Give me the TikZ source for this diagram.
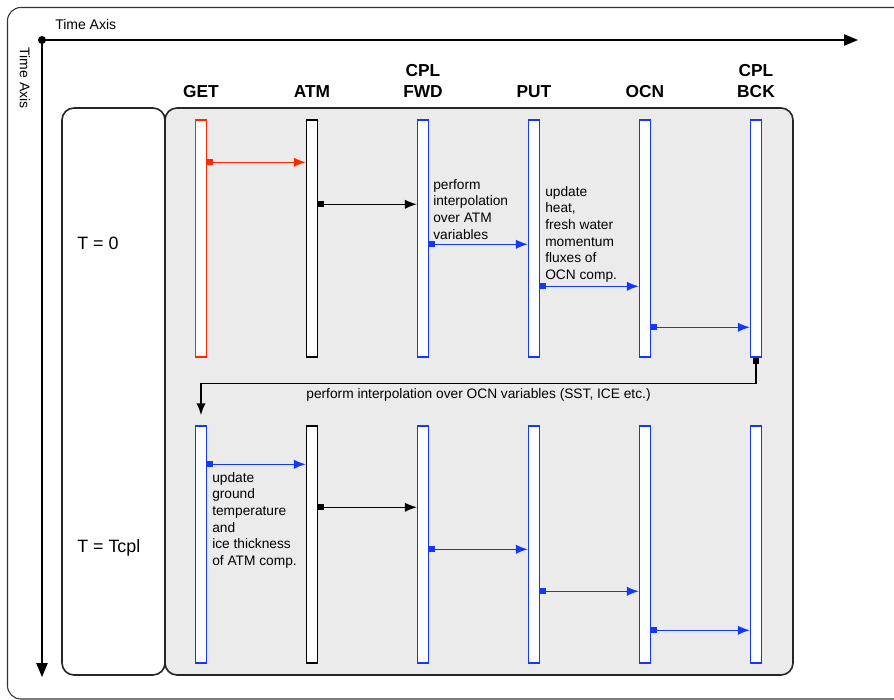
\documentclass[tikz,border=0pt]{standalone}
\usepackage{fontspec}
\setmainfont{Liberation Sans}
\usetikzlibrary{arrows.meta,calc,positioning}
\definecolor{rouge}{RGB}{255,38,0}
\definecolor{bleu}{RGB}{20,55,255}
\definecolor{fond}{HTML}{EBEBEB}
\tikzset{%
	>={Latex[length=9pt,width=7pt]},
	% Specifications for style of nodes:
	life/.style = {rectangle, draw=black, fill=white, line width=1.1pt, inner sep=0pt,
		minimum width=8pt, minimum height=177.75pt},
	lifer/.style = {life, draw=rouge},
	lifeb/.style = {life, draw=bleu},
	head/.style = {font=\fontsize{13}{15.75}\selectfont\bfseries, align=center, inner sep=0pt},
	note/.style = {font=\fontsize{10.3}{12.5}\selectfont, align=left, inner sep=0pt, anchor=north west},
	phase/.style = {font=\fontsize{13.4}{16}\selectfont, anchor=west, inner sep=0pt},
	msg/.style = {line width=1.15pt, {Square[length=4.8pt,width=4.8pt]}->},
	axis/.style = {line width=1pt, -{Triangle[length=10.5pt,width=8.5pt]}},
	panel/.style = {draw=black!85, line width=1.2pt, rounded corners=9pt}
}

\begin{document}
\begin{tikzpicture}[x=0.75pt,y=-0.75pt,node distance=83.25pt]
	\useasboundingbox (0,0) rectangle (894,700);
	% outer frame
	\begin{scope}
		\clip (0,0) rectangle (894,700);
		\draw[black!80, line width=0.8pt, rounded corners=10pt] (7.5,7.5) rectangle (915,699);
	\end{scope}
	% time axes
	\coordinate (o) at (42,40);
	\coordinate (xend) at (858,40);
	\coordinate (yend) at (42,677);
	\fill (o) circle (3pt);
	\draw[axis] (o) -- (xend);
	\draw[axis] (o) -- (yend);
	\node[anchor=base west, inner sep=0pt, font=\fontsize{10.5}{12}\selectfont] (xlab) at (55,29) {Time Axis};
	\node[rotate=-90, inner sep=0pt, font=\fontsize{10.5}{12}\selectfont] (ylab) at (25,78) {Time Axis};
	
	% panels
	\draw[panel, fill=white] (62,108) rectangle (165,675);
	\draw[panel, fill=fond] (165,108) rectangle (793,675);
	\node[phase] (t0) at (77,243) {T = 0};
	\node[phase] (tc) at (77,548) {T = Tcpl};
	
	% Specification of nodes (position, etc.)
	\node (get1) [lifer] at (201,238.5) {};
	\node (atm1) [life, right of=get1] {};
	\node (fwd1) [lifeb, right of=atm1] {};
	\node (put1) [lifeb, right of=fwd1] {};
	\node (ocn1) [lifeb, right of=put1] {};
	\node (bck1) [lifeb, right of=ocn1] {};
	
	\node (get2) [lifeb] at (201,544.5) {};
	\node (atm2) [life, right of=get2] {};
	\node (fwd2) [lifeb, right of=atm2] {};
	\node (put2) [lifeb, right of=fwd2] {};
	\node (ocn2) [lifeb, right of=put2] {};
	\node (bck2) [lifeb, right of=ocn2] {};
	
	\node (hget) [head, above=16pt of get1] {GET};
	\node (hatm) [head, above=16pt of atm1] {ATM};
	\node (hfwd) [head, above=16pt of fwd1] {CPL\\FWD};
	\node (hput) [head, above=16pt of put1] {PUT};
	\node (hocn) [head, above=16pt of ocn1] {OCN};
	\node (hbck) [head, above=16pt of bck1] {CPL\\BCK};
	
	% messages, first step
	\draw[msg, rouge] ($(get1.north east)+(0,43)$) -- ($(atm1.north west)+(0,43)$);
	\draw[msg] ($(atm1.north east)+(0,85)$) -- ($(fwd1.north west)+(0,85)$);
	\draw[msg, bleu] ($(fwd1.north east)+(0,125)$) -- ($(put1.north west)+(0,125)$);
	\draw[msg, bleu] ($(put1.north east)+(0,167)$) -- ($(ocn1.north west)+(0,167)$);
	\draw[msg, bleu] ($(ocn1.north east)+(0,208)$) -- ($(bck1.north west)+(0,208)$);
	
	\coordinate (turn) at ($(get2.north)+(0,-42)$);
	\draw[msg] (bck1.south) |- (turn)
		node[pos=0.75, below, font=\fontsize{10.3}{12.5}\selectfont] (backlab)
		{perform interpolation over OCN variables (SST, ICE etc.)}
		-- ([yshift=7.5pt]get2.north);
	
	% messages, second step
	\draw[msg, bleu] ($(get2.north east)+(0,39)$) -- ($(atm2.north west)+(0,39)$);
	\draw[msg] ($(atm2.north east)+(0,82)$) -- ($(fwd2.north west)+(0,82)$);
	\draw[msg, bleu] ($(fwd2.north east)+(0,124)$) -- ($(put2.north west)+(0,124)$);
	\draw[msg, bleu] ($(put2.north east)+(0,166)$) -- ($(ocn2.north west)+(0,166)$);
	\draw[msg, bleu] ($(ocn2.north east)+(0,205)$) -- ($(bck2.north west)+(0,205)$);
	
	% notes
	\node (nfwd) [note] at (433,179) {perform\\interpolation\\over ATM\\variables};
	\node (nput) [note] at (545,186) {update\\heat,\\fresh water\\momentum\\fluxes of\\OCN comp.};
	\node (nget) [note] at (212,472) {update\\ground\\temperature\\and\\ice thickness\\of ATM comp.};
\end{tikzpicture}
\end{document}
